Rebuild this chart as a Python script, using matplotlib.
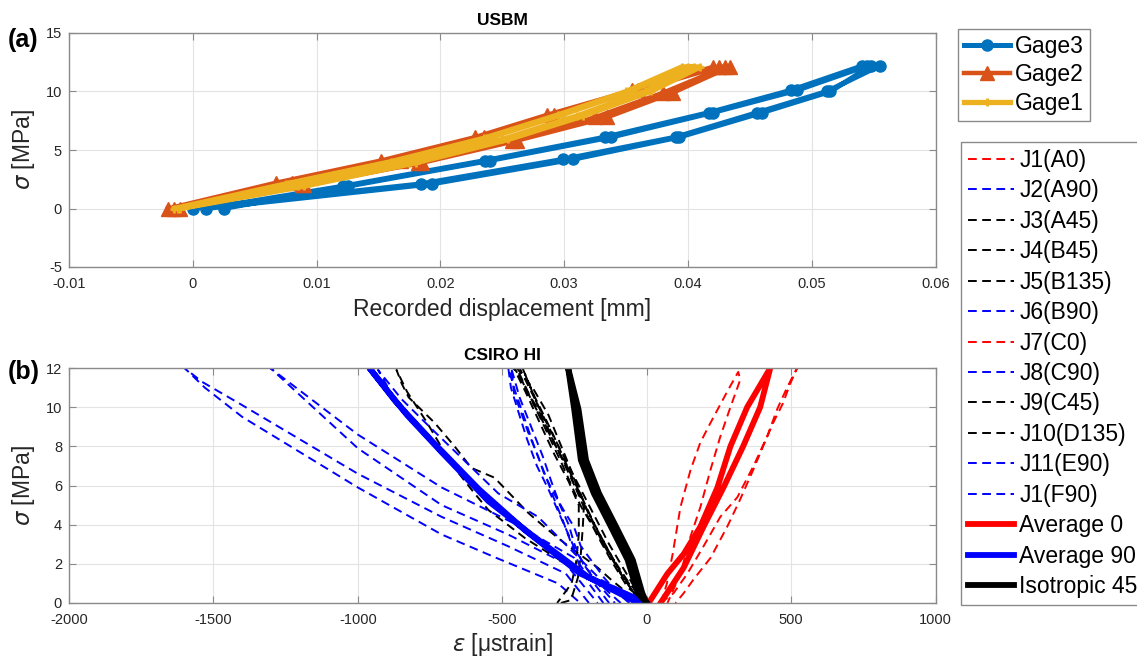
import matplotlib
matplotlib.use('Agg')
import matplotlib.pyplot as plt

plt.rcParams['font.family'] = ['Liberation Sans', 'DejaVu Sans']
plt.rcParams['axes.unicode_minus'] = False
plt.rcParams['mathtext.fontset'] = 'dejavusans'

# ---- (a) USBM: displacement [mm] vs stress [MPa]
gage3_disp = [0.0, 0.0184, 0.0299, 0.0390, 0.0456, 0.0512, 0.0555,
              0.0541, 0.0483, 0.0417, 0.0333, 0.0236, 0.0121, 0.0011,
              0.0193, 0.0307, 0.0393, 0.0460, 0.0515, 0.0548,
              0.0545, 0.0488, 0.0420, 0.0338, 0.0240, 0.0125, 0.0025]
gage3_stress = [0.0, 2.1, 4.2, 6.1, 8.2, 10.0, 12.2,
                12.2, 10.1, 8.2, 6.1, 4.1, 1.9, 0.0,
                2.1, 4.2, 6.1, 8.2, 10.0, 12.2,
                12.2, 10.1, 8.2, 6.1, 4.1, 1.9, 0.0]

gage2_disp = [-0.0020, 0.0067, 0.0152, 0.0228, 0.0286, 0.0355, 0.0420,
              0.0434, 0.0388, 0.0335, 0.0262, 0.0185, 0.0090, -0.0015,
              0.0080, 0.0168, 0.0235, 0.0292, 0.0360, 0.0425,
              0.0430, 0.0380, 0.0325, 0.0258, 0.0182, 0.0088, -0.0010]
gage2_stress = [0.0, 2.2, 4.1, 6.1, 8.0, 10.1, 12.1,
                12.1, 9.9, 7.8, 5.8, 3.9, 2.0, 0.0,
                2.2, 4.1, 6.1, 8.0, 10.1, 12.1,
                12.1, 9.9, 7.8, 5.8, 3.9, 2.0, 0.0]

gage1_disp = [-0.0015, 0.0075, 0.0160, 0.0235, 0.0295, 0.0350, 0.0395,
              0.0410, 0.0370, 0.0315, 0.0255, 0.0180, 0.0090, -0.0010,
              0.0078, 0.0163, 0.0238, 0.0298, 0.0353, 0.0400,
              0.0405, 0.0365, 0.0310, 0.0250, 0.0175, 0.0085, -0.0012]
gage1_stress = [0.0, 2.1, 4.0, 6.0, 8.0, 10.0, 12.1,
                12.1, 10.0, 7.9, 5.9, 3.9, 1.9, 0.0,
                2.1, 4.0, 6.0, 8.0, 10.0, 12.1,
                12.1, 10.0, 7.9, 5.9, 3.9, 1.9, 0.0]

# ---- (b) CSIRO HI: strain [microstrain] vs stress [MPa]
j1_a0_eps = [50, 70, 90, 117, 152, 186, 221, 279, 317, 324, 290, 255, 221, 186, 152, 117, 72]
j1_a0_sig = [0, 1.0, 2.5, 4.9, 6.8, 8.2, 9.2, 10.8, 11.8, 11.4, 10.0, 8.5, 6.8, 4.9, 3.4, 1.5, 0]

j2_a90_eps = [-200, -280, -480, -710, -1000, -1400, -1540, -1600,
              -1530, -1400, -1000, -710, -520, -307, -230]
j2_a90_sig = [0, 1.5, 2.9, 4.4, 6.6, 10.1, 11.3, 12,
              11.0, 9.5, 5.9, 3.5, 2.3, 1.0, 0]

j3_a45_eps = [0, -66, -124, -169, -238, -297, -355, -410, -527, -607, -665, -734, -824, -848, -866,
              -830, -760, -676, -596, -548, -420, -280, -150, -40]
j3_a45_sig = [0, 0.5, 1.2, 1.8, 2.55, 3.2, 3.9, 4.6, 6.4, 6.9, 8.0, 9.2, 10.5, 11.2, 11.9,
              10.8, 9.2, 7.1, 5.6, 4.75, 3.3, 2.0, 1.0, 0]

j4_b45_eps = [0, -66, -124, -169, -203, -238, -272, -307, -341, -376, -410, -441,
              -450, -395, -340, -290, -240, -200, -150, -90, -20]
j4_b45_sig = [0, 0.8, 2.2, 3.4, 4.4, 5.6, 6.8, 7.8, 8.8, 9.9, 10.7, 11.6,
              12, 11.0, 9.6, 7.8, 6.0, 4.5, 3.0, 1.5, 0]

j5_b135_eps = [-297, -262, -238, -228, -221, -217, -250, -300, -350, -400, -440, -460,
               -420, -370, -320, -270, -235, -235, -245, -260, -300, -310]
j5_b135_sig = [0, 0.15, 1.3, 2.5, 3.9, 5.1, 6.3, 7.6, 9.0, 10.4, 11.6, 12,
               10.8, 9.2, 7.6, 6.2, 5.0, 3.5, 2.0, 1.0, 0.2, 0]

j6_b90_eps = [-130, -250, -450, -710, -1000, -1250, -1303,
              -1000, -710, -480, -280, -170]
j6_b90_sig = [0, 2.3, 4.0, 5.9, 8.6, 11.4, 12,
              7.9, 5.0, 3.5, 2.0, 0]

j7_c0_eps = [48, 93, 141, 197, 255, 314, 370, 417, 452, 486, 521,
             497, 472, 438, 403, 369, 324, 279, 221, 162, 128, 100]
j7_c0_sig = [0, 0.5, 1.5, 2.9, 4.4, 5.4, 7.0, 8.5, 9.9, 11.0, 12,
             11.2, 10.2, 9.2, 8.0, 6.8, 5.3, 3.9, 2.3, 1.2, 0.5, 0]

j8_c90_eps = [0, -160, -376, -514, -745, -848, -930,
              -880, -780, -640, -480, -300, -120, -40]
j8_c90_sig = [0, 1.2, 4.4, 5.6, 8.9, 10.4, 11.9,
              10.6, 8.8, 6.6, 4.4, 2.3, 0.6, 0]

j9_c45_eps = [-20, -90, -180, -260, -330, -390, -430,
              -380, -320, -250, -170, -80, 0]
j9_c45_sig = [0, 1.5, 4.0, 6.5, 8.8, 10.6, 12,
              10.2, 8.2, 6.0, 3.7, 1.3, 0]

j10_d135_eps = [0, -60, -150, -230, -290, -370, -450,
                -440, -350, -270, -200, -130, -50, -10]
j10_d135_sig = [0, 1.0, 3.0, 5.0, 7.0, 9.5, 12,
                12, 9.3, 7.0, 5.0, 3.0, 1.0, 0]

j11_e90_eps = [-60, -100, -148, -193, -228, -252, -286, -321, -355, -376, -410, -434, -459, -469,
               -440, -400, -360, -330, -300, -270, -250, -220, -170, -110]
j11_e90_sig = [0, 0.5, 1.3, 2.2, 2.9, 3.9, 4.7, 5.6, 6.6, 7.5, 8.7, 9.7, 10.7, 12,
               10.5, 9.0, 7.5, 6.2, 5.0, 4.0, 3.0, 2.0, 1.0, 0]

j1_f90_eps = [-90, -150, -210, -250, -280, -307, -340, -380, -415, -445, -470, -479,
              -455, -420, -385, -350, -320, -290, -265, -240, -200, -150]
j1_f90_sig = [0, 0.8, 1.8, 2.8, 3.8, 4.7, 5.8, 7.0, 8.4, 9.8, 11.0, 12,
              10.8, 9.3, 7.8, 6.5, 5.3, 4.2, 3.2, 2.2, 1.0, 0]

avg0_eps = [7, 72, 128, 186, 245, 290, 348, 428, 393, 334, 266, 197, 128, 48]
avg0_sig = [0, 1.5, 2.5, 3.9, 5.9, 8.0, 10.0, 12, 10.0, 8.0, 5.9, 3.9, 1.8, 0]

avg90_eps = [-30, -200, -400, -548, -710, -830, -960, -870, -745, -580, -420, -230, 0]
avg90_sig = [0, 1.3, 3.5, 5.2, 7.7, 9.6, 12, 10.3, 8.3, 5.8, 3.7, 1.5, 0]

iso45_eps = [0, -31, -66, -124, -183, -228, -251, -272, -255, -236, -210, -165, -106, -48, -15, 0]
iso45_sig = [0, 0.5, 2.2, 3.9, 5.6, 7.3, 9.9, 12, 11.0, 9.9, 7.3, 5.6, 3.9, 2.2, 0.5, 0]

dashed_series = [
    ('J1(A0)', 'r', j1_a0_eps, j1_a0_sig),
    ('J2(A90)', 'b', j2_a90_eps, j2_a90_sig),
    ('J3(A45)', 'k', j3_a45_eps, j3_a45_sig),
    ('J4(B45)', 'k', j4_b45_eps, j4_b45_sig),
    ('J5(B135)', 'k', j5_b135_eps, j5_b135_sig),
    ('J6(B90)', 'b', j6_b90_eps, j6_b90_sig),
    ('J7(C0)', 'r', j7_c0_eps, j7_c0_sig),
    ('J8(C90)', 'b', j8_c90_eps, j8_c90_sig),
    ('J9(C45)', 'k', j9_c45_eps, j9_c45_sig),
    ('J10(D135)', 'k', j10_d135_eps, j10_d135_sig),
    ('J11(E90)', 'b', j11_e90_eps, j11_e90_sig),
    ('J1(F90)', 'b', j1_f90_eps, j1_f90_sig),
]

W, H = 1137, 665
fig = plt.figure(figsize=(W / 100, H / 100), dpi=100)
ax1 = fig.add_axes([69 / W, 1 - 267 / H, 866.5 / W, 234 / H])
ax2 = fig.add_axes([69 / W, 1 - 603 / H, 866.5 / W, 235 / H])


def matlab_style(ax):
    ax.grid(True, color='#e3e3e3', lw=0.8)
    ax.set_axisbelow(True)
    for s in ax.spines.values():
        s.set_color('#8a8a8a')
        s.set_linewidth(1.0)
    ax.tick_params(direction='in', top=True, right=True, length=5,
                   color='#8a8a8a', labelsize=10.5, labelcolor='#262626')
    ax.tick_params(axis='x', pad=7)
    ax.tick_params(axis='y', pad=5)


# (a)
ax1.plot(gage3_disp, gage3_stress, '-o', color='#0072BD', lw=3.6, ms=8, label='Gage3')
ax1.plot(gage2_disp, gage2_stress, '-^', color='#D95319', lw=3.2, ms=10, label='Gage2')
ax1.plot(gage1_disp, gage1_stress, '-+', color='#EDB120', lw=3.8, ms=6, mew=2, label='Gage1')
ax1.set_xlim(-0.01, 0.06)
ax1.set_ylim(-5, 15)
ax1.set_xticks([-0.01, 0, 0.01, 0.02, 0.03, 0.04, 0.05, 0.06])
ax1.set_xticklabels(['-0.01', '0', '0.01', '0.02', '0.03', '0.04', '0.05', '0.06'])
ax1.set_yticks([-5, 0, 5, 10, 15])
matlab_style(ax1)
ax1.set_title('USBM', fontsize=12.5, fontweight='bold', pad=6)
ax1.set_xlabel('Recorded displacement [mm]', fontsize=16.5, color='#262626', labelpad=5)
ax1.set_ylabel(r'$\sigma$ [MPa]', fontsize=16.5, color='#262626', labelpad=6)

# (b)
for lab, col, e, s in dashed_series:
    ax2.plot(e, s, color=col, lw=1.4, linestyle=(0, (4.5, 2.8)), label=lab)
ax2.plot(avg0_eps, avg0_sig, color='r', lw=4.2, label='Average 0')
ax2.plot(avg90_eps, avg90_sig, color='b', lw=4.2, label='Average 90')
ax2.plot(iso45_eps, iso45_sig, color='k', lw=4.2, label='Isotropic 45')
ax2.set_xlim(-2000, 1000)
ax2.set_ylim(0, 12)
ax2.set_xticks(range(-2000, 1001, 500))
ax2.set_yticks(range(0, 13, 2))
matlab_style(ax2)
ax2.set_title('CSIRO HI', fontsize=12.5, fontweight='bold', pad=6)
ax2.set_xlabel(r'$\epsilon$ [μstrain]', fontsize=16.5, color='#262626', labelpad=3)
ax2.set_ylabel(r'$\sigma$ [MPa]', fontsize=16.5, color='#262626', labelpad=6)

fig.text(8 / W, 1 - 40 / H, '(a)', fontsize=18, fontweight='bold', va='center', ha='left')
fig.text(8 / W, 1 - 372 / H, '(b)', fontsize=18, fontweight='bold', va='center', ha='left')

h1, l1 = ax1.get_legend_handles_labels()
leg1 = fig.legend(h1, l1, loc='upper left', bbox_to_anchor=(958 / W, 1 - 29 / H),
                  borderaxespad=0, fontsize=16.5, fancybox=False, framealpha=1,
                  edgecolor='#8a8a8a', handlelength=2.0, handletextpad=0.25,
                  labelspacing=0.25, borderpad=0.25)
leg1.get_frame().set_linewidth(1.0)

h2, l2 = ax2.get_legend_handles_labels()
leg2 = fig.legend(h2, l2, loc='upper left', bbox_to_anchor=(961 / W, 1 - 142 / H),
                  borderaxespad=0, fontsize=16.5, fancybox=False, framealpha=1,
                  edgecolor='#8a8a8a', handlelength=2.0, handletextpad=0.25,
                  labelspacing=0.325, borderpad=0.3)
leg2.get_frame().set_linewidth(1.0)

plt.savefig('out.png', dpi=100)
plt.close()
